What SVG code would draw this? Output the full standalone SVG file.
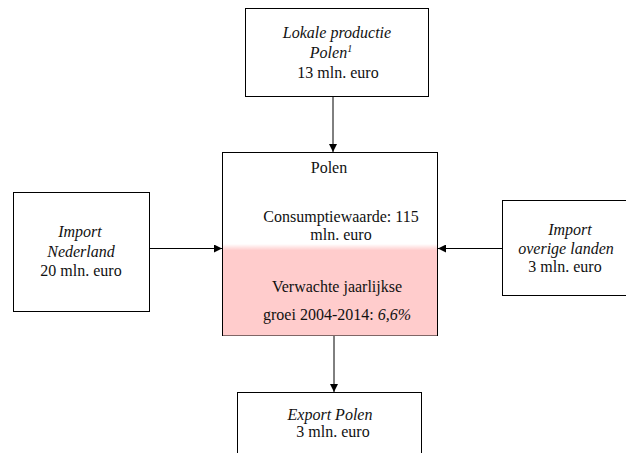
<svg xmlns="http://www.w3.org/2000/svg" width="626" height="453" viewBox="0 0 626 453">
<style>
.box{fill:#fff;stroke:#000;stroke-width:1}
.t{font-family:"Liberation Serif","Times New Roman",serif;font-size:16px;fill:#111;text-anchor:middle}
.i{font-style:italic}
.c{stroke:#000;stroke-width:1;fill:none}
</style>
<defs>
<marker id="ah" viewBox="0 0 10 10" refX="10" refY="5" markerWidth="8" markerHeight="8" markerUnits="userSpaceOnUse" orient="auto">
<path d="M0,0 L10,5 L0,10 z" fill="#000"/>
</marker>
<linearGradient id="pk" x1="0" y1="0" x2="0" y2="1">
<stop offset="0" stop-color="#ffcccc" stop-opacity="0"/>
<stop offset="0.07" stop-color="#ffcccc"/>
<stop offset="1" stop-color="#ffcccc"/>
</linearGradient>
</defs>
<g id="connectors">
<line class="c" x1="333" y1="97" x2="333" y2="152" marker-end="url(#ah)"/>
<line class="c" x1="149" y1="248.5" x2="222" y2="248.5" marker-end="url(#ah)"/>
<line class="c" x1="502" y1="248.5" x2="438" y2="248.5" marker-end="url(#ah)"/>
<line class="c" x1="334" y1="336" x2="334" y2="392" marker-end="url(#ah)"/>
</g>
<g id="node-lokale">
<rect class="box" x="245.5" y="8.5" width="183" height="88"/>
<text class="t i" x="337" y="38">Lokale productie</text>
<text class="t i" x="331" y="58">Polen<tspan font-size="10" dy="-6">1</tspan></text>
<text class="t" x="338" y="78">13 mln. euro</text>
</g>
<g id="node-polen">
<rect class="box" x="222.5" y="152.5" width="215" height="183"/>
<rect x="223" y="244" width="214" height="91.5" fill="url(#pk)"/>
<text class="t" x="329" y="173">Polen</text>
<text class="t" x="341" y="222">Consumptiewaarde: 115</text>
<text class="t" x="341" y="240">mln. euro</text>
<text class="t" x="337" y="292">Verwachte jaarlijkse</text>
<text class="t" x="337" y="320">groei 2004-2014: <tspan class="i">6,6%</tspan></text>
</g>
<g id="node-import-nl">
<rect class="box" x="13.5" y="192.5" width="136" height="119"/>
<text class="t i" x="80" y="237">Import</text>
<text class="t i" x="81" y="257">Nederland</text>
<text class="t" x="81" y="276">20 mln. euro</text>
</g>
<g id="node-import-overig">
<rect class="box" x="502.5" y="200.5" width="130" height="95"/>
<text class="t i" x="570" y="235">Import</text>
<text class="t i" x="566" y="254">overige landen</text>
<text class="t" x="565" y="272">3 mln. euro</text>
</g>
<g id="node-export">
<rect class="box" x="237.5" y="392.5" width="184" height="80"/>
<text class="t i" x="330" y="420">Export Polen</text>
<text class="t" x="333" y="437">3 mln. euro</text>
</g>
</svg>
